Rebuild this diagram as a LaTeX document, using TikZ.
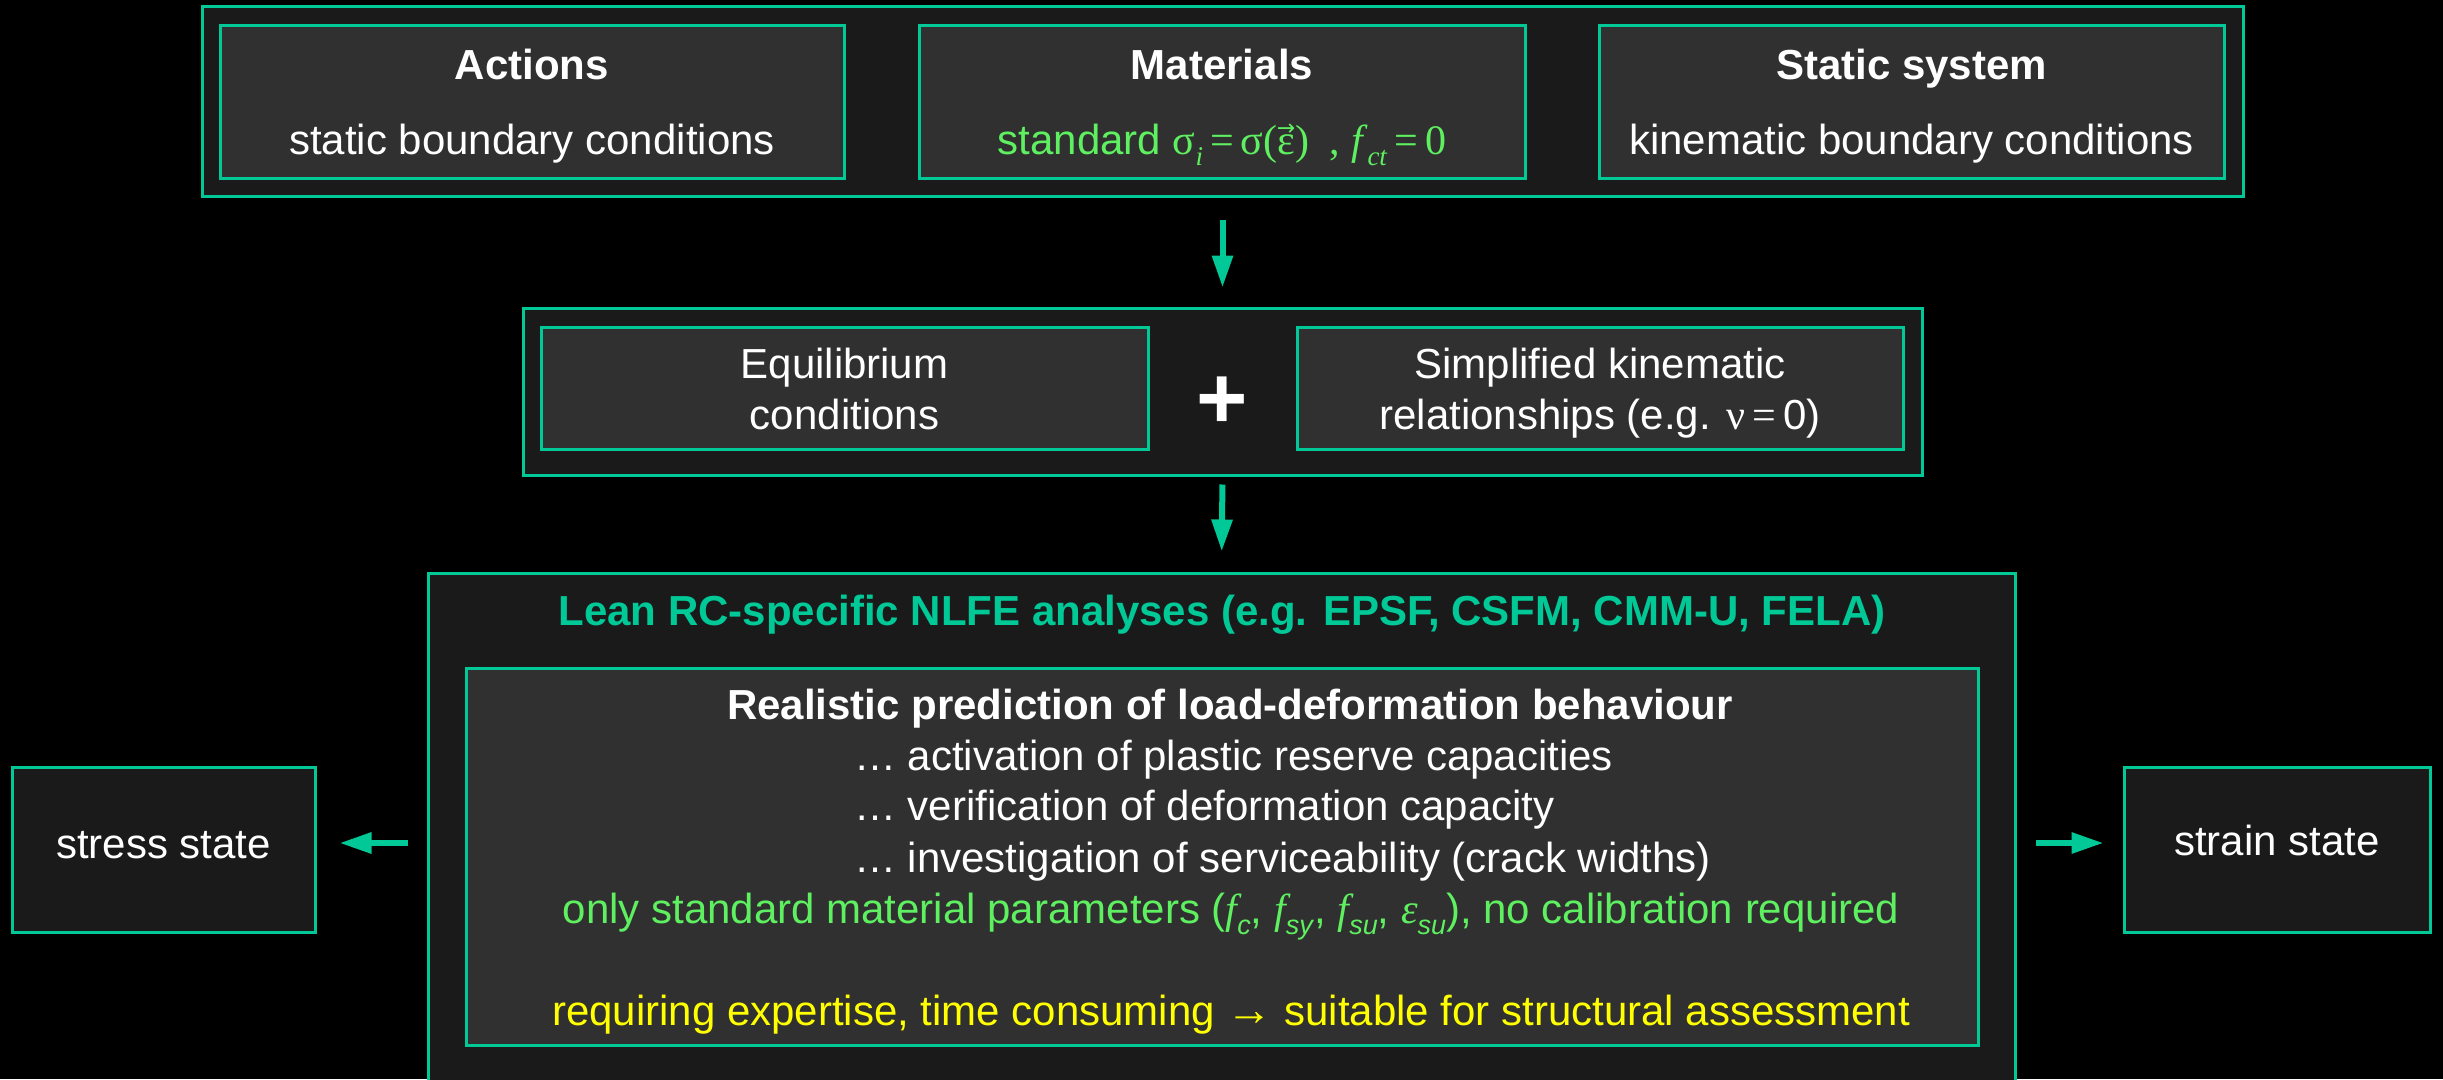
\documentclass[tikz,border=0pt]{standalone}
\usepackage{fontspec}
\setmainfont{Liberation Sans}
\newfontfamily\timesfont{Liberation Serif}
\newfontfamily\arrowfont{DejaVu Sans}
\usetikzlibrary{arrows.meta}

\definecolor{accent}{HTML}{00C896}
\definecolor{lightgreen}{HTML}{5EF060}
\definecolor{panel}{HTML}{1A1A1A}
\definecolor{cell}{HTML}{303030}
\definecolor{note}{HTML}{FFFF00}

% lowered small subscript
\newcommand{\lowsub}[1]{\raisebox{-0.28em}{\fontsize{27}{27}\selectfont #1}}
% epsilon with a small arrow above it
\newcommand{\vecEps}{\setbox0\hbox{ε}\hbox to \wd0{\hss ε\hss}%
  \llap{\hbox to \wd0{\hss\raisebox{19pt}{\arrowfont\fontsize{22}{22}\selectfont →}\hss}}}

\tikzset{
  panelbox/.style={draw=accent, line width=3pt, fill=panel, inner sep=0pt},
  cellbox/.style={draw=accent, line width=3pt, fill=cell, inner sep=0pt},
  txt/.style={text=white, anchor=base, inner sep=0pt, font=\fontsize{42}{51}\selectfont},
  flow/.style={draw=accent, line width=6pt, -{Triangle[length=32pt,width=20pt]}},
}

\begin{document}
\begin{tikzpicture}[x=1pt,y=-1pt]
  \fill[black] (0,0) rectangle (2443,1079);
  \useasboundingbox (0,0) rectangle (2443,1079);
  \clip (0,0) rectangle (2443,1079);

  % top row: input data
  \node[panelbox, minimum width=2041, minimum height=190] (topframe) at (1222.5,101) {};
  \node[cellbox, minimum width=624, minimum height=153] (actions) at (532,101.5) {};
  \node[cellbox, minimum width=606, minimum height=153] (materials) at (1222,101.5) {};
  \node[cellbox, minimum width=625, minimum height=153] (static) at (1911.5,101.5) {};

  \node[txt, font=\fontsize{42}{51}\selectfont\bfseries] (actT) at (532,79) {Actions};
  \node[txt] (actS) at (532,154) {static boundary conditions};
  \node[txt, font=\fontsize{42}{51}\selectfont\bfseries] (matT) at (1222,79) {Materials};
  \node[txt, text=lightgreen] (matS) at (1222,154)
    {standard {\timesfont σ\lowsub{\textit{i}}\,=\,σ(\vecEps)\ \ , \textit{f}\lowsub{\textit{ct}}\,=\,0}};
  \node[txt, font=\fontsize{42}{51}\selectfont\bfseries] (staT) at (1911.5,79) {Static system};
  \node[txt] (staS) at (1911.5,154) {kinematic boundary conditions};

  % middle row: equilibrium and kinematics
  \node[panelbox, minimum width=1399, minimum height=167] (midframe) at (1222.5,391.5) {};
  \node[cellbox, minimum width=607, minimum height=122] (equil) at (844.5,388) {};
  \node[cellbox, minimum width=606, minimum height=122] (kinem) at (1600,388) {};
  \node[txt] (eqA) at (844.5,378) {Equilibrium};
  \node[txt] (eqB) at (844.5,429) {conditions};
  \node[txt] (kiA) at (1600,378) {Simplified kinematic};
  \node[txt] (kiB) at (1600,429) {relationships (e.g. {\timesfont ν\,=\,}0)};
  \node[txt, anchor=center, font=\fontsize{88}{88}\selectfont\bfseries] (plus) at (1222.5,403) {+};

  % bottom: NLFE analyses
  \node[panelbox, minimum width=1587, minimum height=527] (lowframe) at (1221.5,836.5) {};
  \node[cellbox, minimum width=1512, minimum height=377] (inner) at (1222,856.5) {};
  \node[txt, text=accent, font=\fontsize{42}{51}\selectfont\bfseries] (lean) at (1222,625)
    {Lean RC-specific NLFE analyses (e.g. EPSF, CSFM, CMM-U, FELA)};
  \node[txt, font=\fontsize{42}{51}\selectfont\bfseries] (real) at (1230,719)
    {Realistic prediction of load-deformation behaviour};
  \node[txt, anchor=base west] (itemA) at (854,770) {… activation of plastic reserve capacities};
  \node[txt, anchor=base west] (itemB) at (854,820) {… verification of deformation capacity};
  \node[txt, anchor=base west] (itemC) at (854,872) {… investigation of serviceability (crack widths)};
  \node[txt, text=lightgreen] (params) at (1231,923)
    {only standard material parameters ({\timesfont\itshape f}\lowsub{\textit{c}}, {\timesfont\itshape f}\lowsub{\textit{sy}}, {\timesfont\itshape f}\lowsub{\textit{su}}, {\timesfont\itshape ε}\lowsub{\textit{su}}), no calibration required};
  \node[txt, text=note] (expert) at (1231,1025)
    {requiring expertise, time consuming {\timesfont\fontsize{46}{51}\selectfont →} suitable for structural assessment};

  % side results
  \node[panelbox, minimum width=303, minimum height=165] (stress) at (163.5,849.5) {};
  \node[txt] (stressT) at (163.5,858) {stress state};
  \node[panelbox, minimum width=306, minimum height=165] (strain) at (2277,849.5) {};
  \node[txt] (strainT) at (2277,855) {strain state};

  % connectors
  \draw[flow, shorten <=22pt, shorten >=19pt] (topframe.south) -- (midframe.north);
  \draw[flow, shorten <=8pt, shorten >=20pt] (midframe.south) -- (lowframe.north);
  \draw[flow, shorten <=19pt, shorten >=23pt]
    ([yshift=6.5pt]lowframe.west |- stress.east) -- ([yshift=6.5pt]stress.east);
  \draw[flow, shorten <=19pt, shorten >=19pt]
    ([yshift=6.5pt]lowframe.east |- strain.west) -- ([yshift=6.5pt]strain.west);
\end{tikzpicture}
\end{document}
